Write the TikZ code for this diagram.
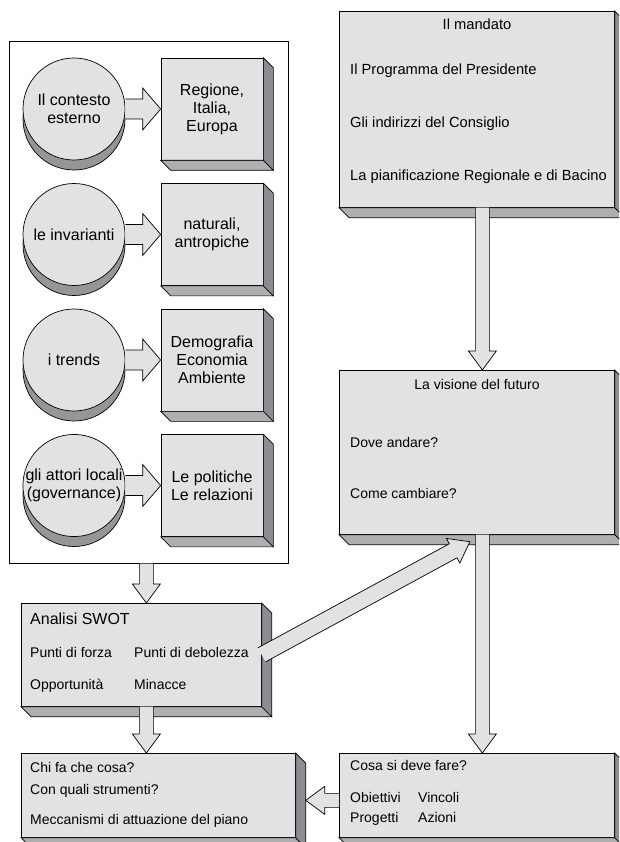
\documentclass[tikz,border=0pt]{standalone}
\usepackage{fontspec}
\setmainfont{Liberation Sans}
\usetikzlibrary{calc}

\definecolor{facelight}{RGB}{226,226,228}
\definecolor{facemid}{RGB}{175,175,178}
\definecolor{facedark}{RGB}{140,140,145}
\definecolor{shadowgray}{RGB}{150,150,153}

\tikzset{
  box/.style={draw, fill=facelight, line width=0.7pt, anchor=north west, inner sep=0pt},
  disc/.style={circle, draw, fill=facelight, line width=0.7pt, minimum size=102pt, inner sep=0pt, align=center, font=\fontsize{16}{18}\selectfont},
  cube/.style={box, anchor=center, minimum size=102pt, align=center, font=\fontsize{16}{18}\selectfont},
  txt/.style={anchor=mid west, inner sep=0pt, font=\fontsize{14}{16}\selectfont},
  bigtxt/.style={txt, font=\fontsize{14.7}{17}\selectfont},
  title/.style={txt, anchor=mid},
  bigarrow/.style={draw, fill=facelight, line width=0.7pt, line join=miter},
}

\newcommand{\drawbevel}[1]{%
  \filldraw[fill=facemid, line width=0.7pt] (#1.south west) -- ++(10,10) -- ($(#1.south east)+(10,10)$) -- (#1.south east) -- cycle;
  \filldraw[fill=facedark, line width=0.7pt] (#1.north east) -- ++(10,10) -- ($(#1.south east)+(10,10)$) -- (#1.south east) -- cycle;}

\newcommand{\blockarrow}[5]{%
  \coordinate (ah) at ($(#2)!#5!(#1)$);
  \path[bigarrow] ($(#1)!#3!90:(#2)$) -- ($(ah)!#3!90:(#2)$) -- ($(ah)!#4!90:(#2)$) -- (#2)
    -- ($(ah)!#4!-90:(#2)$) -- ($(ah)!#3!-90:(#2)$) -- ($(#1)!#3!-90:(#2)$);}

\begin{document}
\begin{tikzpicture}[x=1pt, y=-1pt]
\useasboundingbox (0,0) rectangle (619,842);
\clip (0,0) rectangle (619,842);

\node[draw, line width=0.7pt, inner sep=0pt, anchor=north west, minimum width=279pt, minimum height=522pt] (context) at (9,41) {};

\foreach \r/\ctext/\qtext in {0/{Il contesto\\esterno}/{Regione,\\Italia,\\Europa},
    1/{le invarianti}/{naturali,\\antropiche},
    2/{i trends}/{Demografia\\Economia\\Ambiente},
    3/{gli attori locali\\(governance)}/{Le politiche\\Le relazioni}} {
  \pgfmathsetmacro\yy{109+125.5*\r}
  \filldraw[fill=shadowgray, line width=0.7pt] (74,\yy+10) circle[radius=51];
  \node[disc] (c\r) at (74,\yy) {\ctext};
  \node[cube] (q\r) at (212,\yy) {\qtext};
  \drawbevel{q\r}
  \blockarrow{c\r.east}{q\r.west}{10pt}{21pt}{18pt}
}

\node[box, minimum width=275pt, minimum height=196pt] (mandato) at (339,11) {};
\node[box, minimum width=275pt, minimum height=164pt] (visione) at (339,370) {};
\node[box, minimum width=240pt, minimum height=103pt] (swot) at (21,603) {};
\node[box, minimum width=274pt, minimum height=84pt] (chi) at (21,753) {};
\node[box, minimum width=275pt, minimum height=84pt] (cosa) at (339,753) {};
\foreach \b in {mandato,visione,swot,chi,cosa} {\drawbevel{\b}}

\node[title, font=\fontsize{14.7}{17}\selectfont] (mandatohead) at (477,27) {Il mandato};
\node[bigtxt] (programma) at (350,72) {Il Programma del Presidente};
\node[bigtxt] (indirizzi) at (350,125) {Gli indirizzi del Consiglio};
\node[bigtxt] (pianificazione) at (350,178) {La pianificazione Regionale e di Bacino};

\node[title] (visionehead) at (477,387) {La visione del futuro};
\node[txt] (dove) at (350,445) {Dove andare?};
\node[txt] (come) at (350,496) {Come cambiare?};

\node[txt, font=\fontsize{16}{18}\selectfont] (swothead) at (30,622) {Analisi SWOT};
\node[txt] (forza) at (30,655) {Punti di forza};
\node[txt] (debolezza) at (134,655) {Punti di debolezza};
\node[txt] (opportunita) at (30,687) {Opportunità};
\node[txt] (minacce) at (134,687) {Minacce};

\node[txt] (chihead) at (30,770) {Chi fa che cosa?};
\node[txt] (strumenti) at (30,792) {Con quali strumenti?};
\node[txt] (meccanismi) at (30,822) {Meccanismi di attuazione del piano};

\node[txt] (cosahead) at (350,768) {Cosa si deve fare?};
\node[txt] (obiettivi) at (350,800) {Obiettivi};
\node[txt] (vincoli) at (418,800) {Vincoli};
\node[txt] (progetti) at (350,820) {Progetti};
\node[txt] (azioni) at (418,820) {Azioni};

\coordinate (contextout) at ($(context.south)+(-2.5,0)$);
\coordinate (swotin) at ($(swot.north)+(5,0)$);
\coordinate (swotout) at ($(swot.south)+(5,0)$);
\coordinate (chiin) at ($(chi.north)+(-12,0)$);
\coordinate (mandatoout) at ($(mandato.south)+(5.5,0)$);
\coordinate (visionein) at ($(visione.north)+(5.5,0)$);
\coordinate (visioneout) at ($(visione.south)+(5.5,0)$);
\coordinate (cosain) at ($(cosa.north)+(5.5,0)$);
\coordinate (visioneside) at ($(visione.south)+(-7,7)$);
\coordinate (cosaout) at ($(cosa.west)+(0,5)$);
\coordinate (chiside) at ($(chi.east)+(10,5)$);

\blockarrow{contextout}{swotin}{7pt}{14pt}{19pt}
\blockarrow{swotout}{chiin}{7pt}{14pt}{19pt}
\blockarrow{mandatoout}{visionein}{7pt}{14pt}{19pt}
\blockarrow{visioneout}{cosain}{7pt}{14pt}{19pt}
\blockarrow{swot.east}{visioneside}{8pt}{14pt}{19pt}
\blockarrow{cosaout}{chiside}{7pt}{14pt}{19pt}
\end{tikzpicture}
\end{document}
